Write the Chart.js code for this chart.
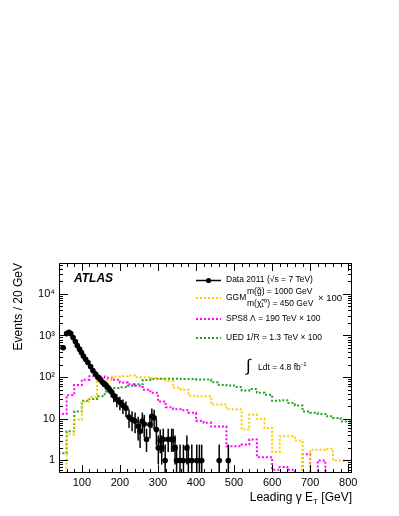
<!DOCTYPE html>
<html>
<head>
<meta charset="utf-8">
<script src="https://cdn.jsdelivr.net/npm/chart.js@4.4.1/dist/chart.umd.min.js"></script>
<style>
html, body { margin: 0; padding: 0; background: #fff; }
#plot { display: block; }
</style>
</head>
<body>
<canvas id="plot" width="399" height="516"></canvas>
<script>
// histogram bin edges (GeV), last bin is cut by the frame
const binEdges = [40, 60, 80, 100, 120, 140, 160, 180, 200, 220, 240, 260, 280, 300, 320, 340, 360, 380, 400, 420,
    440, 460, 480, 500, 520, 540, 560, 580, 600, 620, 640, 660, 680, 700, 720, 740, 760, 780, 800, 810];

const ggmValues = [0.5, 0.5, 4.2, 9.6, 26, 34, 78, 85, 103, 105, 110, 100, 100, 95, 90, 80, 56, 50, 36, 35,
    35, 22, 22, 17, 17, 5.5, 12.6, 10, 6, 1.6, 3.8, 3.8, 3.0, 0.5, 1.8, 1.8, 1.9, 1.0, 1.0];
const sps8Values = [0.7, 13, 37, 65, 87, 105, 103, 97, 87, 74, 68, 62, 50, 42, 26, 19, 17, 16, 14, 9,
    8, 6.5, 6.5, 2.2, 2.2, 2.4, 3.2, 1.2, 1.2, 0.6, 0.7, 0.6, 0.5, 1.4, 0.5, 1.0, 0.5, 0.5, 0.5];
const uedValues = [0.75, 1.5, 5, 15, 27, 30, 35, 45, 55, 57, 62, 68, 85, 90, 92, 92, 92, 90, 90, 88,
    88, 75, 65, 63, 58, 48, 52, 42, 38, 27, 28, 24, 21, 15, 14, 13, 11.5, 10.5, 8.6];

// data 2011
const dataX = [51, 60, 66, 71, 77, 83, 88, 94, 99, 104, 110, 116, 123, 129, 136, 142, 149, 155, 162, 169,
    177, 184, 192, 200, 208, 216, 224, 232, 240, 248, 253, 259, 264, 270, 279, 284, 290, 296, 301, 306,
    310, 314, 319, 327, 336, 340, 345, 349, 358, 367, 376, 380, 389, 402, 409, 415, 461, 485];
const dataY = [510, 1110, 1200, 1110, 890, 715, 575, 470, 390, 320, 270, 224, 180, 144, 119, 100, 87, 74, 66, 56,
    45, 36, 29, 25, 21, 18, 11, 9.6, 8.8, 6.6, 5.0, 8.8, 7.5, 3.2, 7.3, 11.5, 10.6, 5.5, 2.0, 3.0,
    2.0, 3.2, 1.0, 3.2, 3.2, 3.2, 2.0, 1, 1, 1, 2, 1, 1, 1, 1, 1, 1, 1];
const dataErrUp = [40, 60, 62, 60, 54, 48, 43, 39, 36, 32, 30, 27, 24, 22, 20, 18, 17, 15, 15, 13,
    12, 11, 10, 9, 8, 8, 6, 5.6, 5.3, 4.6, 4.0, 5.3, 4.9, 2.6, 4.9, 6.1, 5.9, 4.2, 2.0, 2.5,
    2.0, 2.6, 1.4, 2.6, 2.6, 2.6, 2.0, 1.4, 1.4, 1.4, 2.0, 1.4, 1.4, 1.4, 1.4, 1.4, 1.4, 1.4];
const dataErrDown = [40, 60, 62, 60, 54, 48, 43, 39, 36, 32, 30, 27, 24, 22, 20, 18, 17, 15, 15, 13,
    12, 11, 10, 9, 8, 7, 5, 4.6, 4.3, 3.6, 3.0, 4.3, 3.9, 1.6, 3.9, 5.5, 5.1, 3.2, 1.2, 1.5,
    1.2, 1.6, 1, 1.6, 1.6, 1.6, 1.2, 1, 1, 1, 1.2, 1, 1, 1, 1, 1, 1, 1];

const xTickValues = [100, 200, 300, 400, 500, 600, 700, 800];
const yTickValues = [1, 10, 100, 1000, 10000];
const yTickLabels = ['1', '10', '10\u00b2', '10\u00b3', '10\u2074'];

const FONT = '"Liberation Sans", Arial, Helvetica, sans-serif';
const GOLD = '#ffcc00', MAGENTA = '#ff00ff', GREEN = '#1fa51f';

function histPoints(values) {
    const pts = values.map((v, i) => ({ x: binEdges[i], y: v }));
    pts.push({ x: binEdges[binEdges.length - 1], y: values[values.length - 1] });
    return pts;
}

function histDataset(values, color) {
    return {
        data: histPoints(values),
        borderColor: color,
        borderWidth: 2,
        borderDash: [2, 2],
        stepped: 'after',
        pointRadius: 0,
        fill: false,
        order: 2
    };
}

// error bars on the data points
const errorBars = {
    id: 'errorBars',
    afterDatasetsDraw(chart) {
        const ctx = chart.ctx;
        const xs = chart.scales.x, ys = chart.scales.y;
        const area = chart.chartArea;
        ctx.save();
        ctx.strokeStyle = '#000';
        ctx.lineWidth = 1.5;
        for (let i = 0; i < dataX.length; i++) {
            const px = xs.getPixelForValue(dataX[i]);
            const lo = dataY[i] - dataErrDown[i];
            const yTop = ys.getPixelForValue(dataY[i] + dataErrUp[i]);
            const yBot = lo > ys.min ? ys.getPixelForValue(lo) : area.bottom;
            ctx.beginPath();
            ctx.moveTo(px, yTop);
            ctx.lineTo(px, yBot);
            ctx.stroke();
        }
        ctx.restore();
    }
};

// ROOT style frame with ticks on all sides
const frameTicks = {
    id: 'frameTicks',
    afterDraw(chart) {
        const ctx = chart.ctx;
        const a = chart.chartArea;
        const xs = chart.scales.x, ys = chart.scales.y;
        ctx.save();
        ctx.strokeStyle = '#000';
        ctx.lineWidth = 1;
        ctx.strokeRect(a.left + 0.5, a.top + 0.5, a.right - a.left - 1, a.bottom - a.top - 1);
        ctx.beginPath();
        for (let v = 60; v < 810; v += 20) {
            const px = Math.round(xs.getPixelForValue(v)) + 0.5;
            const len = v % 100 === 0 ? 8 : 4;
            ctx.moveTo(px, a.bottom);
            ctx.lineTo(px, a.bottom - len);
            ctx.moveTo(px, a.top);
            ctx.lineTo(px, a.top + len);
        }
        for (let d = -1; d <= 4; d++) {
            for (let m = 1; m <= 9; m++) {
                const v = m * Math.pow(10, d);
                if (v <= ys.min || v >= ys.max) continue;
                const py = Math.round(ys.getPixelForValue(v)) + 0.5;
                const len = m === 1 ? 9 : 4;
                ctx.moveTo(a.left, py);
                ctx.lineTo(a.left + len, py);
                ctx.moveTo(a.right, py);
                ctx.lineTo(a.right - len, py);
            }
        }
        ctx.stroke();
        ctx.restore();
    }
};

// labels, legend and axis titles
const annotations = {
    id: 'annotations',
    afterDraw(chart) {
        const ctx = chart.ctx;
        ctx.save();
        ctx.fillStyle = '#000';
        ctx.textBaseline = 'middle';

        ctx.font = 'italic bold 12px ' + FONT;
        ctx.fillText('ATLAS', 74, 279);

        // y title (right aligned to top)
        ctx.save();
        ctx.translate(19, 263);
        ctx.rotate(-Math.PI / 2);
        ctx.font = '12px ' + FONT;
        ctx.textAlign = 'right';
        ctx.fillText('Events / 20 GeV', 0, 0);
        ctx.restore();

        // x title (right aligned to frame)
        let x = 352;
        const y = 498;
        ctx.textAlign = 'left';
        ctx.font = '12px ' + FONT;
        const tail = ' [GeV]';
        x -= ctx.measureText(tail).width;
        ctx.fillText(tail, x, y);
        ctx.font = '8px ' + FONT;
        x -= ctx.measureText('T').width;
        ctx.fillText('T', x, y + 4);
        ctx.font = '12px ' + FONT;
        const head = 'Leading \u03b3 E';
        x -= ctx.measureText(head).width;
        ctx.fillText(head, x, y);

        // legend
        const lx0 = 196, lx1 = 221, tx = 226;
        ctx.font = '8.5px ' + FONT;

        ctx.strokeStyle = '#000';
        ctx.lineWidth = 1.5;
        ctx.beginPath();
        ctx.moveTo(lx0, 280.5);
        ctx.lineTo(lx1, 280.5);
        ctx.stroke();
        ctx.beginPath();
        ctx.arc((lx0 + lx1) / 2, 280.5, 2.6, 0, Math.PI * 2);
        ctx.fill();
        ctx.fillText('Data 2011 (\u221as = 7 TeV)', tx, 280);

        const legendLine = (color, yy) => {
            ctx.save();
            ctx.strokeStyle = color;
            ctx.lineWidth = 2;
            ctx.setLineDash([2, 2]);
            ctx.beginPath();
            ctx.moveTo(lx0, yy);
            ctx.lineTo(lx1, yy);
            ctx.stroke();
            ctx.restore();
        };

        legendLine(GOLD, 298);
        ctx.fillText('GGM', tx, 298);
        ctx.fillText('m(g\u0303) = 1000 GeV', 247, 292);
        ctx.fillText('m(\u03c7\u0303\u2081\u2070) = 450 GeV', 247, 304);
        ctx.font = '9.5px ' + FONT;
        ctx.fillText('\u00d7 100', 318, 298);
        ctx.font = '8.5px ' + FONT;

        legendLine(MAGENTA, 319);
        ctx.fillText('SPS8 \u039b = 190 TeV \u00d7 100', tx, 319);

        legendLine(GREEN, 338);
        ctx.fillText('UED 1/R = 1.3 TeV \u00d7 100', tx, 338);

        // luminosity
        ctx.font = '17px ' + FONT;
        ctx.fillText('\u222b', 246, 366);
        ctx.font = '8.5px ' + FONT;
        ctx.fillText('Ldt = 4.8 fb', 258, 368);
        const w = ctx.measureText('Ldt = 4.8 fb').width;
        ctx.font = '6px ' + FONT;
        ctx.fillText('-1', 258 + w + 0.5, 364);

        ctx.restore();
    }
};

const chart = new Chart(document.getElementById('plot').getContext('2d'), {
    type: 'line',
    data: {
        datasets: [
            {
                data: dataX.map((v, i) => ({ x: v, y: dataY[i] })),
                showLine: false,
                pointRadius: 2.8,
                pointBackgroundColor: '#000',
                pointBorderColor: '#000',
                pointBorderWidth: 0,
                order: 0
            },
            histDataset(ggmValues, GOLD),
            histDataset(sps8Values, MAGENTA),
            histDataset(uedValues, GREEN)
        ]
    },
    options: {
        responsive: false,
        animation: false,
        events: [],
        layout: { padding: { left: 0, top: 263, right: 47, bottom: 0 } },
        plugins: { legend: { display: false }, tooltip: { enabled: false }, title: { display: false } },
        scales: {
            x: {
                type: 'linear',
                min: 40,
                max: 810,
                grid: { display: false, drawTicks: false },
                border: { display: false },
                afterBuildTicks: s => { s.ticks = xTickValues.map(v => ({ value: v })); },
                afterFit: s => { s.height = 43; },
                ticks: {
                    autoSkip: false,
                    maxRotation: 0,
                    padding: 3,
                    color: '#000',
                    font: { family: FONT, size: 11 },
                    callback: v => String(v)
                }
            },
            y: {
                type: 'logarithmic',
                min: 0.5,
                max: 55000,
                grid: { display: false, drawTicks: false },
                border: { display: false },
                afterBuildTicks: s => { s.ticks = yTickValues.map(v => ({ value: v })); },
                afterFit: s => { s.width = 59; },
                ticks: {
                    autoSkip: false,
                    padding: 4,
                    color: '#000',
                    font: { family: FONT, size: 11 },
                    callback: v => yTickLabels[yTickValues.indexOf(v)]
                }
            }
        }
    },
    plugins: [errorBars, frameTicks, annotations]
});
</script>
</body>
</html>
